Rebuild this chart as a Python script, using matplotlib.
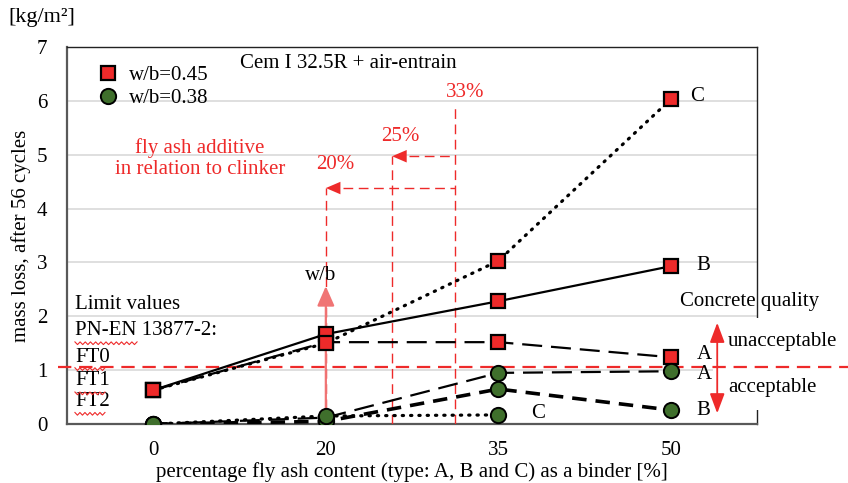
import numpy as np
import matplotlib
matplotlib.use("Agg")
import matplotlib.pyplot as plt
from matplotlib.lines import Line2D
from matplotlib.patches import Rectangle

plt.rcParams["font.family"] = ["Liberation Serif", "DejaVu Serif"]
plt.rcParams["font.size"] = 15

# fly ash content [%] and mass loss [kg/m2]
fly_ash = ["0", "20", "35", "50"]
pos = np.arange(len(fly_ash))

wb045_A = [0.63, 1.52, 1.52, 1.24]
wb045_B = [0.63, 1.67, 2.28, 2.93]
wb045_C = [0.63, 1.50, 3.03, 6.03]
wb038_A = [0.00, 0.12, 0.95, 0.98]
wb038_B = [0.00, 0.05, 0.65, 0.26]
wb038_C = [0.00, 0.15, 0.17]

limit_ft = 1.05

red = "#ee2a2a"
green = "#3f6f2c"
pale_red = "#f07474"

fig = plt.figure(figsize=(8.48, 4.83), dpi=100)
ax = fig.add_axes([0.079, 0.122, 0.814, 0.781])

sq = dict(marker="s", ms=10, mfc=red, mec="black", mew=1.6, color="black", lw=1.6)
ci = dict(marker="o", ms=11, mfc=green, mec="black", mew=1.4, color="black", lw=1.6)

ax.plot(pos, wb045_A, dashes=(9, 4), zorder=5, **sq)
ax.plot(pos, wb045_B, zorder=5, **sq)
ax.plot(pos, wb045_C, linestyle=(0, (0.4, 2.2)), dash_capstyle="round", zorder=5,
        **{**sq, "lw": 2.3})
ax.plot(pos, wb038_A, dashes=(9, 4), zorder=5, **ci)
ax.plot(pos, wb038_B, dashes=(4, 2.5), zorder=5, **{**ci, "lw": 2.6})
ax.plot(pos[:3], wb038_C, linestyle=(0, (0.4, 2.2)), dash_capstyle="round", zorder=5,
        **{**ci, "lw": 2.3})

# fly ash / clinker ratio guides
dash_red = dict(color=red, lw=1.0, dashes=(7, 4), zorder=3)
ax.plot([1, 1], [0, 4.38], **dash_red)
ax.plot([1.384, 1.384], [0, 4.97], **dash_red)
ax.plot([1.749, 1.749], [0, 5.87], **dash_red)
ax.plot([1.1, 1.749], [4.38, 4.38], **dash_red)
ax.plot([1.48, 1.749], [4.97, 4.97], **dash_red)
arr = dict(arrowstyle="-|>,head_length=0.7,head_width=0.3", color=red, lw=0, shrinkA=0, shrinkB=0)
ax.annotate("", xy=(1, 4.38), xytext=(1.12, 4.38), arrowprops=arr, zorder=4)
ax.annotate("", xy=(1.384, 4.97), xytext=(1.5, 4.97), arrowprops=arr, zorder=4)
ax.text(1.807, 6.16, "33%", color=red, ha="center", va="center")
ax.text(1.43, 5.33, "25%", color=red, ha="center", va="center")
ax.text(1.054, 4.81, "20%", color=red, ha="center", va="center")
ax.text(0.271, 4.92, "fly ash additive\nin relation to clinker", color=red,
        ha="center", va="center", linespacing=1.15)

# w/b arrow
ax.annotate("", xy=(1, 2.56), xytext=(1, 0),
            arrowprops=dict(arrowstyle="-|>,head_length=0.8,head_width=0.35",
                            color=pale_red, lw=1.6, shrinkA=0, shrinkB=0), zorder=4)
ax.text(0.967, 2.75, "w/b", ha="center", va="center")

# series letters
for x, y, s in [(3.11, 6.07, "C"), (3.15, 2.95, "B"), (3.15, 1.30, "A"),
                (3.15, 0.92, "A"), (3.15, 0.26, "B"), (2.19, 0.20, "C")]:
    ax.text(x, y, s, ha="left", va="center", zorder=6)

# cover for the quality annotation, right side
ax.add_patch(Rectangle((0.936, 0.27), 0.2, 1.7, transform=ax.get_yaxis_transform(),
                       facecolor="white", edgecolor="none", clip_on=False, zorder=3))

# limit between FT classes
ax.plot([-0.013, 1.132], [limit_ft, limit_ft], transform=ax.get_yaxis_transform(),
        color=red, lw=1.6, dashes=(6, 3.5), clip_on=False, zorder=4)

ax.text(3.054, 2.28, "Concrete quality", ha="left", va="center", zorder=6)
ax.text(3.33, 1.54, "unacceptable", ha="left", va="center", zorder=6)
ax.text(3.33, 0.67, "acceptable", ha="left", va="center", zorder=6)
ax.annotate("", xy=(3.268, 1.88), xytext=(3.268, 0.20), annotation_clip=False,
            arrowprops=dict(arrowstyle="<|-|>,head_length=0.8,head_width=0.3",
                            color=red, lw=1.3, shrinkA=0, shrinkB=0), zorder=6)

# limit value labels
limit_labels = [("Limit values", 2.21), ("PN-EN 13877-2:", 1.73), ("FT0", 1.24),
                ("FT1", 0.80), ("FT2", 0.41)]
for s, y in limit_labels:
    ax.text(-0.454, y, s, ha="left", va="center", zorder=6)

# red squiggles under the standard's names
for x1, y0 in [(-0.094, 1.50), (-0.28, 1.02), (-0.28, 0.57), (-0.28, 0.19)]:
    xs = np.linspace(-0.454, x1, int((x1 + 0.454) * 172.5 / 2.5) + 1)
    ys = y0 + 0.025 * np.where(np.arange(len(xs)) % 2 == 0, 1, -1)
    ax.plot(xs, ys, color=red, lw=0.8, zorder=6)

ax.text(0.503, 6.70, "Cem I 32.5R + air-entrain", ha="left", va="center")

handles = [Line2D([], [], marker="s", ls="none", ms=10, mfc=red, mec="black", mew=1.6),
           Line2D([], [], marker="o", ls="none", ms=11, mfc=green, mec="black", mew=1.4)]
ax.legend(handles, ["w/b=0.45", "w/b=0.38"], loc="upper left", bbox_to_anchor=(0.017, 1.0),
          frameon=False, handlelength=1.0, handletextpad=0.5, labelspacing=0.15,
          borderpad=0.4)

ax.set_xlim(-0.5, 3.5)
ax.set_ylim(0, 7)
ax.set_xticks(pos)
ax.set_xticklabels(fly_ash)
ax.set_yticks(range(8))
ax.tick_params(length=0, pad=12)
ax.tick_params(axis="y", pad=14)
ax.yaxis.grid(True, color="#d9d9d9", lw=1.2)
ax.set_axisbelow(True)
for side in ["left", "bottom"]:
    ax.spines[side].set_color("#595959")
    ax.spines[side].set_linewidth(1.6)
for side in ["top", "right"]:
    ax.spines[side].set_color("#222222")
    ax.spines[side].set_linewidth(1.0)

ax.set_xlabel("percentage fly ash content (type: A, B and C) as a binder [%]", labelpad=2)
ax.set_ylabel("mass loss, after 56 cycles", labelpad=4)
fig.text(0.049, 0.963, "[kg/m²]", ha="center", va="center", fontsize=16)

fig.savefig("out.png", dpi=100)
